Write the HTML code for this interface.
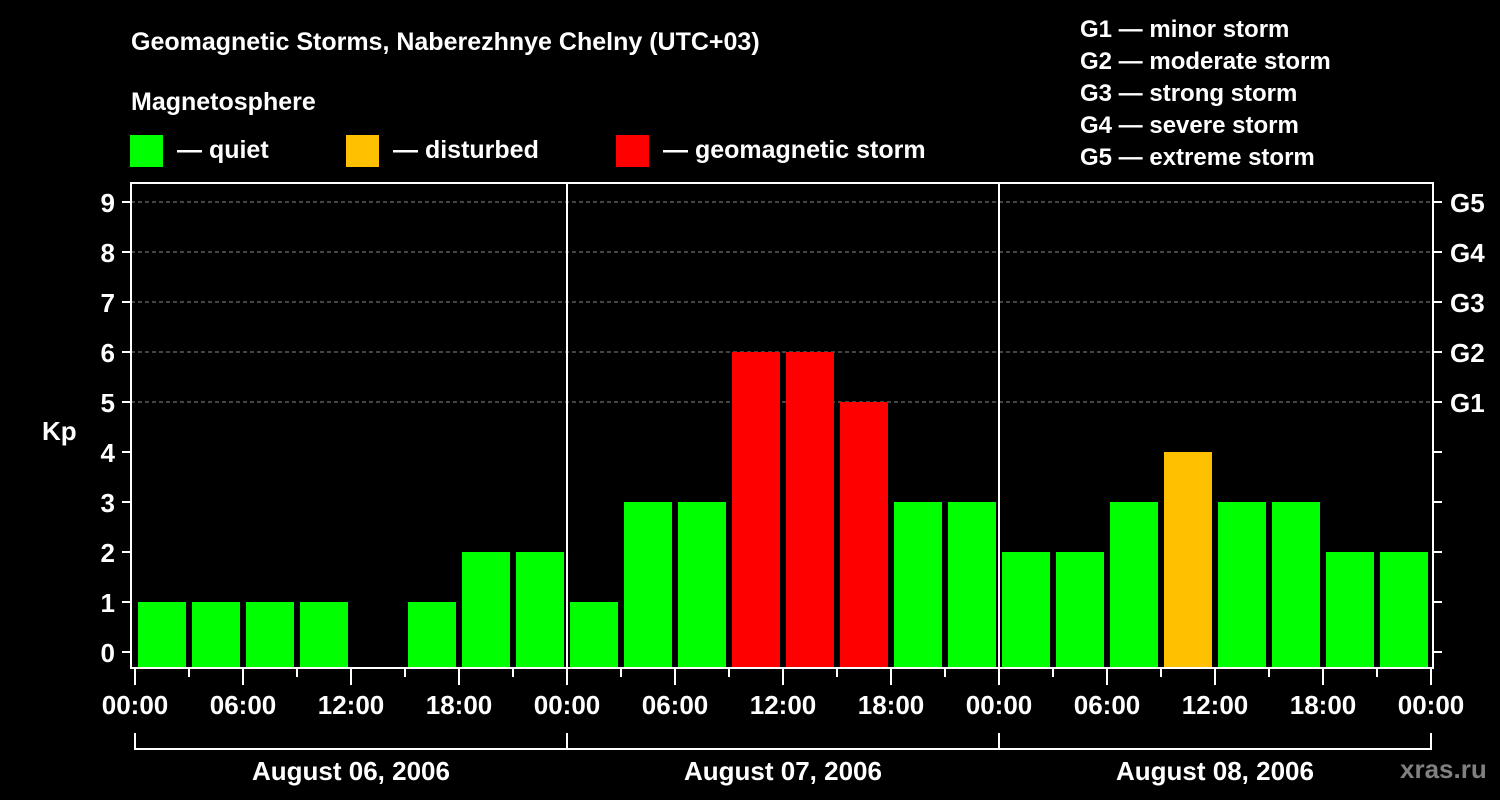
<!DOCTYPE html>
<html><head><meta charset="utf-8">
<style>
html,body{margin:0;padding:0;background:#000;}
svg{display:block;font-family:"Liberation Sans",sans-serif;font-weight:bold;}
</style></head>
<body>
<svg id="chart" width="1500" height="800" viewBox="0 0 1500 800" xmlns="http://www.w3.org/2000/svg">
<rect width="1500" height="800" fill="#000"/>
<text x="131" y="50" fill="#fff" font-size="25">Geomagnetic Storms, Naberezhnye Chelny (UTC+03)</text>
<text x="131" y="110" fill="#fff" font-size="25">Magnetosphere</text>
<g><rect x="130" y="135" width="33" height="32" fill="#00ff00"/><text x="177" y="158" fill="#fff" font-size="25">— quiet</text></g>
<g><rect x="346" y="135" width="33" height="32" fill="#ffc000"/><text x="393" y="158" fill="#fff" font-size="25">— disturbed</text></g>
<g><rect x="616" y="135" width="33" height="32" fill="#ff0000"/><text x="663" y="158" fill="#fff" font-size="25">— geomagnetic storm</text></g>
<g fill="#fff" font-size="24">
<text x="1080" y="37">G1 — minor storm</text>
<text x="1080" y="69">G2 — moderate storm</text>
<text x="1080" y="101">G3 — strong storm</text>
<text x="1080" y="133">G4 — severe storm</text>
<text x="1080" y="165">G5 — extreme storm</text>
</g>
<text x="42" y="440" fill="#fff" font-size="26">Kp</text>
<text x="1400" y="778" fill="#808080" font-size="26">xras.ru</text>
<g id="grid"></g><g id="bars"></g><g id="axes"></g>
</svg>
<script>
const kpValues = [1,1,1,1,null,1,2,2, 1,3,3,6,6,5,3,3, 2,2,3,4,3,3,2,2];
const dayLabels = ["August 06, 2006","August 07, 2006","August 08, 2006"];
const timeLabels = ["00:00","06:00","12:00","18:00"];
const kpTicks = [0,1,2,3,4,5,6,7,8,9];
const gLabels = ["G1","G2","G3","G4","G5"];

const NS="http://www.w3.org/2000/svg";
const X0=135, DAYW=432, LEFT=131, RIGHT=1433, TOP=183, BOTTOM=668;
const xScale = h => X0 + h*DAYW/24;
const yScale = v => 652 - v*50;
function mk(tag, attrs, parent, txt){
  const e=document.createElementNS(NS,tag);
  for(const k in attrs) e.setAttribute(k,attrs[k]);
  if(txt!==undefined) e.textContent=txt;
  parent.appendChild(e); return e;
}
const grid=document.getElementById('grid'), bars=document.getElementById('bars'), axes=document.getElementById('axes');

// gridlines at G levels (Kp 5..9)
gLabels.forEach((g,i)=>{
  const y=yScale(5+i);
  const l=mk('line',{x1:LEFT,x2:RIGHT,y1:y,y2:y,stroke:'#888','stroke-dasharray':'4,3','stroke-width':1},grid);
  
  
  const t=mk('text',{x:1450,y:y+10,fill:'#fff','font-size':26},axes,g);
  
  
});

// bars
kpValues.forEach((v,i)=>{
  if(v===null||v===undefined) return;
  const color = v>=5 ? '#ff0000' : (v>=4 ? '#ffc000' : '#00ff00');
  const x=xScale(i*3)+3, w=xScale(3)-xScale(0)-6;
  const y=yScale(v);
  const r=mk('rect',{x:x,y:y,width:w,height:BOTTOM-y,fill:color},bars);
  
  
});

// frame
const frame=mk('path',{d:`M${LEFT},${TOP}H${RIGHT}V${BOTTOM}H${LEFT}Z`,fill:'none',stroke:'#fff','stroke-width':2},axes);



// day separators
[1,2].forEach(d=>{
  const x=xScale(d*24);
  const l=mk('line',{x1:x,x2:x,y1:TOP,y2:BOTTOM,stroke:'#fff','stroke-width':2},axes);
  
  
});

// y ticks
kpTicks.forEach(v=>{
  const y=yScale(v);
  const l=mk('line',{x1:122,x2:LEFT,y1:y,y2:y,stroke:'#fff','stroke-width':2},axes);
  
  
  const r=mk('line',{x1:RIGHT,x2:1442,y1:y,y2:y,stroke:'#fff','stroke-width':2},axes);
  
  
  const t=mk('text',{x:115,y:y+10,fill:'#fff','font-size':26,'text-anchor':'end'},axes,String(v));
  
  
});

// x ticks
for(let h=0; h<=72; h+=3){
  const x=xScale(h), major=(h%6===0);
  const l=mk('line',{x1:x,x2:x,y1:BOTTOM,y2:major?685:677,stroke:'#fff','stroke-width':2},axes);
  
  
  if(major){
    const t=mk('text',{x:x,y:714,fill:'#fff','font-size':26,'text-anchor':'middle'},axes,timeLabels[(h/6)%4]);
    
    
  }
}

// day brackets
const br=mk('path',{d:`M${xScale(0)},733V749H${xScale(72)}V733`,fill:'none',stroke:'#fff','stroke-width':2},axes);


dayLabels.forEach((d,i)=>{
  const x=xScale(i*24);
  if(i>0){
    const l=mk('line',{x1:x,x2:x,y1:733,y2:749,stroke:'#fff','stroke-width':2},axes);
    
    
  }
  const t=mk('text',{x:xScale(i*24+12),y:780,fill:'#fff','font-size':26,'text-anchor':'middle'},axes,d);
  
  
});
</script>
</body></html>
